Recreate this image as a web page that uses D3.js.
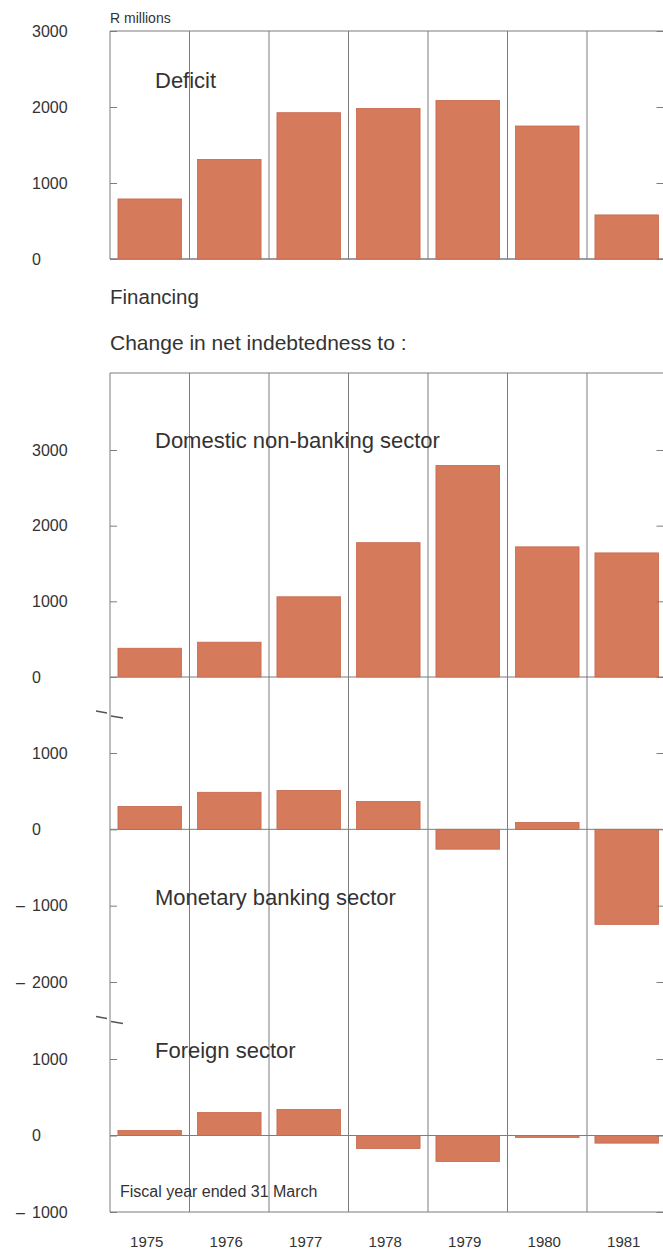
<!DOCTYPE html>
<html>
<head>
<meta charset="utf-8">
<script src="https://cdnjs.cloudflare.com/ajax/libs/d3/7.8.5/d3.min.js"></script>
<style>
    body { margin: 0; background: #fff; }
    svg { display: block; font-family: "Liberation Sans", Arial, sans-serif; }
</style>
</head>
<body>
<div id="chart"></div>
<script>
(function () {
    "use strict";

    // values, R millions
    const years = ["1975", "1976", "1977", "1978", "1979", "1980", "1981"];
    const deficit = [790, 1310, 1925, 1980, 2085, 1750, 580];
    const domestic = [380, 460, 1060, 1775, 2795, 1720, 1640];
    const monetary = [300, 485, 510, 365, -260, 90, -1245];
    const foreign = [65, 300, 340, -170, -340, -25, -100];

    const deficitTicks = [0, 1000, 2000, 3000];
    const domesticTicks = [0, 1000, 2000, 3000];
    const monetaryTicks = [-2000, -1000, 0, 1000];
    const foreignTicks = [-1000, 0, 1000];

    const BAR_FILL = "#d67a5c";
    const BAR_EDGE = "#c6664b";
    const LINE = "#7d7d7d";
    const TEXT = "#333";

    const left = 110, right = 666.5;

    let svg = d3.select("#chart").append("svg")
        .attr("width", 663).attr("height", 1250);

    let x = d3.scaleBand().domain(years).range([left, right])
        .paddingInner(0.2).paddingOuter(0.1);
    let cell = d3.scaleBand().domain(years).range([left, right]);

    const panels = [
        { values: deficit, ticks: deficitTicks, y: d3.scaleLinear().domain([0, 3000]).range([259, 31]),
          label: "Deficit", labelY: 88 },
        { values: domestic, ticks: domesticTicks, y: d3.scaleLinear().domain([0, 3000]).range([677, 450]),
          label: "Domestic non-banking sector", labelY: 448 },
        { values: monetary, ticks: monetaryTicks, y: d3.scaleLinear().domain([-2000, 1000]).range([982, 753]),
          label: "Monetary banking sector", labelY: 905 },
        { values: foreign, ticks: foreignTicks, y: d3.scaleLinear().domain([-1000, 1000]).range([1212, 1059]),
          label: "Foreign sector", labelY: 1058 }
    ];

    // frames and column dividers
    let frames = [[31, 259], [373, 1212]];
    let bounds = years.map(d => cell(d)).concat([right]);

    frames.forEach(([top, bottom]) => {
        svg.append("g").selectAll("line")
            .data(bounds)
            .enter().append("line")
            .attr("x1", d => d).attr("x2", d => d)
            .attr("y1", top).attr("y2", bottom)
            .attr("stroke", LINE).attr("stroke-width", 1);
        svg.append("line")
            .attr("x1", left).attr("x2", right)
            .attr("y1", top).attr("y2", top)
            .attr("stroke", LINE).attr("stroke-width", 1.2);
        svg.append("line")
            .attr("x1", left).attr("x2", right)
            .attr("y1", bottom).attr("y2", bottom)
            .attr("stroke", LINE).attr("stroke-width", 1.2);
    });

    panels.forEach(p => {
        let y = p.y;

        // zero line
        svg.append("line")
            .attr("x1", left).attr("x2", right)
            .attr("y1", y(0)).attr("y2", y(0))
            .attr("stroke", LINE).attr("stroke-width", 1);

        svg.append("g").selectAll("rect")
            .data(p.values)
            .enter().append("rect")
            .attr("x", (d, i) => x(years[i]))
            .attr("width", x.bandwidth())
            .attr("y", d => Math.min(y(d), y(0)))
            .attr("height", d => Math.abs(y(d) - y(0)))
            .attr("fill", BAR_FILL)
            .attr("stroke", BAR_EDGE)
            .attr("stroke-width", 0.8);

        let axisL = svg.append("g")
            .attr("transform", `translate(${left},0)`)
            .call(d3.axisLeft(y).tickValues(p.ticks).tickSize(-7)
                .tickFormat(d => Math.abs(d)));
        axisL.select(".domain").remove();
        axisL.selectAll(".tick line").attr("stroke", LINE);
        axisL.selectAll(".tick text")
            .attr("x", 32 - left)
            .attr("text-anchor", "start")
            .attr("font-size", 16)
            .attr("fill", TEXT);
        // minus sign hangs left of the aligned digits
        axisL.selectAll(".tick")
            .filter(d => d < 0)
            .append("text")
            .attr("x", 16 - left)
            .attr("dy", "0.32em")
            .attr("text-anchor", "start")
            .attr("font-size", 16)
            .attr("fill", TEXT)
            .text("–");

        let axisR = svg.append("g")
            .attr("transform", `translate(${right},0)`)
            .call(d3.axisRight(y).tickValues(p.ticks).tickSize(-10));
        axisR.select(".domain").remove();
        axisR.selectAll(".tick text").remove();
        axisR.selectAll(".tick line").attr("stroke", LINE);

        svg.append("text")
            .attr("x", 155).attr("y", p.labelY)
            .attr("font-size", 22)
            .attr("fill", TEXT)
            .text(p.label);
    });

    // scale breaks on the left edge
    let breaks = [
        (panels[1].y(0) + panels[2].y(1000)) / 2,
        (panels[2].y(-2000) + panels[3].y(1000)) / 2
    ];
    svg.append("g").selectAll("path")
        .data(breaks)
        .enter().append("path")
        .attr("d", d => `M${left - 14},${d - 4} L${left - 3},${d - 2} M${left + 1},${d + 1} L${left + 13},${d + 3}`)
        .attr("stroke", "#555").attr("stroke-width", 1.4).attr("fill", "none");

    svg.append("text")
        .attr("x", 110).attr("y", 23)
        .attr("font-size", 14).attr("fill", TEXT)
        .text("R millions");

    svg.append("text")
        .attr("x", 110).attr("y", 304)
        .attr("font-size", 20.5).attr("fill", TEXT)
        .text("Financing");

    svg.append("text")
        .attr("x", 110).attr("y", 350)
        .attr("font-size", 21).attr("fill", TEXT)
        .text("Change in net indebtedness to :");

    svg.append("text")
        .attr("x", 120).attr("y", 1197)
        .attr("font-size", 16).attr("fill", TEXT)
        .text("Fiscal year ended 31 March");

    svg.append("g").selectAll("text")
        .data(years)
        .enter().append("text")
        .attr("x", d => cell(d) + cell.bandwidth() / 2 - 3)
        .attr("y", 1247)
        .attr("text-anchor", "middle")
        .attr("font-size", 15)
        .attr("fill", TEXT)
        .text(d => d);
})();
</script>
</body>
</html>
